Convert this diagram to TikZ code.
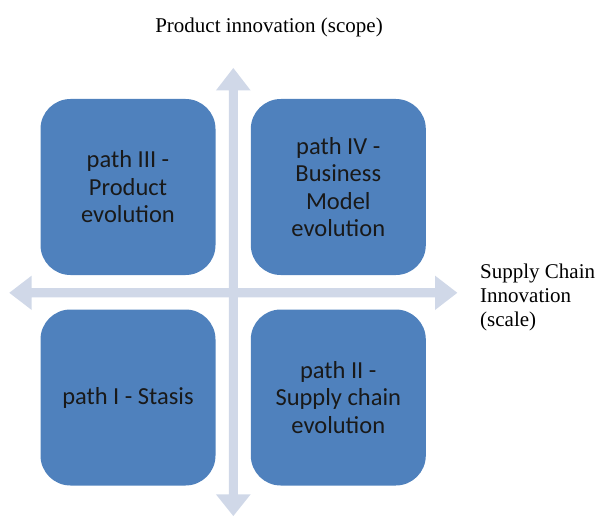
\documentclass[tikz,border=0pt]{standalone}
\usepackage{fontspec}
\setmainfont{Liberation Serif}
\newfontfamily\boxfont{Carlito}
\definecolor{pathblue}{RGB}{79,129,189}
\definecolor{axisgray}{RGB}{208,216,232}
\tikzset{
  pathbox/.style={rectangle, rounded corners=30pt, fill=pathblue, minimum width=175pt, minimum height=176pt,
    inner sep=0pt, align=center, text=black!90, font=\boxfont\fontsize{24.5}{27.5}\selectfont},
  axislabel/.style={inner sep=0pt, font=\fontsize{21}{24}\selectfont}
}
\begin{document}
\begin{tikzpicture}[x=1pt,y=-1pt]
    \useasboundingbox (0,0) rectangle (604,516);
    \fill[axisgray] (233.3,68) -- (250.7,90.5) -- (237.8,90.5) -- (237.8,494.3) -- (250.7,494.3) -- (233.3,516)
      -- (215.9,494.3) -- (228.8,494.3) -- (228.8,90.5) -- (215.9,90.5) -- cycle;
    \fill[axisgray] (9.3,292.8) -- (31.7,275.6) -- (31.7,288.2) -- (435,288.2) -- (435,275.6) -- (457.3,292.8)
      -- (435,310) -- (435,297.4) -- (31.7,297.4) -- (31.7,310) -- cycle;
    \node[pathbox] (p3) at (128,187) {path III -\\Product\\evolution};
    \node[pathbox] (p4) at (338.3,187) {path IV -\\Business\\Model\\evolution};
    \node[pathbox] (p1) at (128,397.5) {path I - Stasis};
    \node[pathbox] (p2) at (338.3,397.5) {path II -\\Supply chain\\evolution};
    \node[axislabel, anchor=base] (scope) at (269,33) {Product innovation (scope)};
    \node[axislabel, anchor=north west, align=left] (scale) at (480,264) {Supply Chain\\Innovation\\(scale)};
\end{tikzpicture}
\end{document}
